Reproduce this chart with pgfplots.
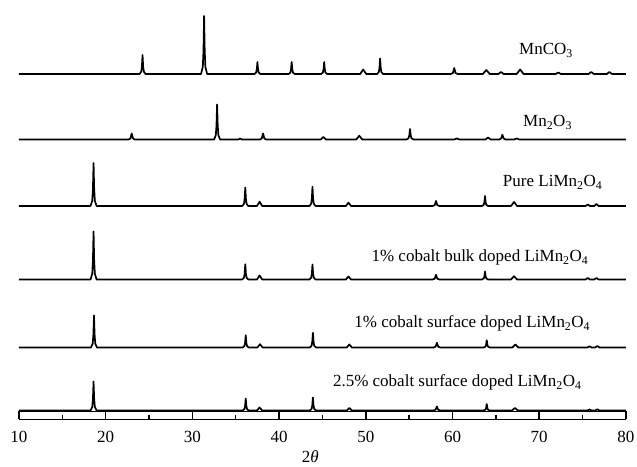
\documentclass[border=0pt]{standalone}
\usepackage{fontspec}
\setmainfont{Liberation Serif}
\usepackage{pgfplots}
\pgfplotsset{compat=1.18}

\begin{document}
\fontsize{17bp}{20bp}\selectfont
\begin{tikzpicture}
\begin{axis}[
    x=8.67bp, y=1bp,
    xmin=10, xmax=80, ymin=-8, ymax=400,
    enlargelimits=false, clip=false,
    axis x line=bottom, axis y line=none,
    axis line style={-, line width=1.6bp},
    xtick={10,20,...,80}, minor x tick num=1,
    tick align=inside,
    major tick length=8bp, minor tick length=4bp,
    every tick/.style={line width=1.5bp, black},
    xticklabel style={yshift=-6bp},
    /pgf/number format/assume math mode=true,
    xlabel={2\textit{θ}},
    xlabel style={at={(axis cs:43.6,-45)}, anchor=center},
    every axis plot post/.append style={black, solid, mark=none, line width=1.7bp, line join=round},
]
% box top of the axis ruler
\draw[line width=1.6bp] (axis cs:10,0) -- (axis cs:80,0);

% MnCO3
\addplot coordinates {(10,337.5)
 (23.9,337.5)(24.1,339.8)(24.18,345.1)(24.25,356.5)(24.32,345.1)(24.4,339.8)(24.6,337.5)
 (31.0,337.5)(31.2,344.5)(31.28,360.7)(31.35,395.5)(31.42,360.7)(31.5,344.5)(31.7,337.5)
 (37.15,337.5)(37.35,338.9)(37.43,342.3)(37.5,349.5)(37.57,342.3)(37.65,338.9)(37.85,337.5)
 (41.1,337.5)(41.3,338.9)(41.38,342.3)(41.45,349.5)(41.52,342.3)(41.6,338.9)(41.8,337.5)
 (44.85,337.5)(45.05,338.9)(45.13,342.3)(45.2,349.5)(45.27,342.3)(45.35,338.9)(45.55,337.5)
 (49.35,337.5)(49.7,342)(50.05,337.5)
 (51.3,337.5)(51.5,339.4)(51.58,343.7)(51.65,353)(51.72,343.7)(51.8,339.4)(52.0,337.5)
 (59.8,337.5)(60.05,338.5)(60.2,343.5)(60.35,338.5)(60.6,337.5)
 (63.5,337.5)(63.9,341.5)(64.3,337.5)
 (65.3,337.5)(65.6,339.5)(65.9,337.5)
 (67.4,337.5)(67.8,342)(68.2,337.5)
 (71.9,337.5)(72.2,339)(72.5,337.5)
 (75.7,337.5)(76.0,339.5)(76.3,337.5)
 (77.8,337.5)(78.1,339.5)(78.4,337.5)
 (80,337.5)};

% Mn2O3
\addplot coordinates {(10,272)
 (22.65,272)(22.85,273)(23.0,278)(23.15,273)(23.35,272)
 (32.5,272)(32.7,276.2)(32.78,286)(32.85,307)(32.92,286)(33.0,276.2)(33.2,272)
 (35.3,272)(35.5,273)(35.7,272)
 (37.8,272)(38.0,273)(38.15,278)(38.3,273)(38.5,272)
 (44.8,272)(45.1,274.5)(45.4,272)
 (48.9,272)(49.25,275.7)(49.6,272)
 (54.7,272)(54.93,273.3)(55.02,276.2)(55.1,282.5)(55.18,276.2)(55.27,273.3)(55.5,272)
 (60.2,272)(60.5,273)(60.8,272)
 (63.8,272)(64.1,274)(64.4,272)
 (65.4,272)(65.6,273)(65.75,276.7)(65.9,273)(66.1,272)
 (67.1,272)(67.4,273)(67.7,272)
 (80,272)};

% Pure LiMn2O4
\addplot coordinates {(10,205.5)
 (18.25,205.5)(18.45,210.7)(18.53,222.7)(18.6,248.5)(18.67,222.7)(18.75,210.7)(18.95,205.5)
 (35.75,205.5)(35.95,207.7)(36.03,212.9)(36.1,224)(36.17,212.9)(36.25,207.7)(36.45,205.5)
 (37.45,205.5)(37.75,209.8)(38.05,205.5)
 (43.5,205.5)(43.7,207.8)(43.78,213.2)(43.85,224.8)(43.92,213.2)(44.0,207.8)(44.2,205.5)
 (47.7,205.5)(48.0,208.8)(48.3,205.5)
 (57.7,205.5)(57.95,206.3)(58.1,210.5)(58.25,206.3)(58.5,205.5)
 (63.4,205.5)(63.6,206.7)(63.68,209.5)(63.75,215.5)(63.82,209.5)(63.9,206.7)(64.1,205.5)
 (66.75,205.5)(67.1,209.5)(67.45,205.5)
 (75.35,205.5)(75.6,207)(75.85,205.5)
 (76.35,205.5)(76.6,207.5)(76.85,205.5)
 (80,205.5)};

% 1% cobalt bulk doped
\addplot coordinates {(10,132)
 (18.25,132)(18.45,137.8)(18.53,151.2)(18.6,180)(18.67,151.2)(18.75,137.8)(18.95,132)
 (35.75,132)(35.95,133.8)(36.03,138.1)(36.1,147.3)(36.17,138.1)(36.25,133.8)(36.45,132)
 (37.45,132)(37.75,136)(38.05,132)
 (43.5,132)(43.7,133.8)(43.78,138)(43.85,147)(43.92,138)(44.0,133.8)(44.2,132)
 (47.7,132)(48.0,135)(48.3,132)
 (57.7,132)(57.95,132.8)(58.1,136.7)(58.25,132.8)(58.5,132)
 (63.4,132)(63.6,133)(63.68,135.2)(63.75,140)(63.82,135.2)(63.9,133)(64.1,132)
 (66.75,132)(67.1,135.3)(67.45,132)
 (75.35,132)(75.6,133.5)(75.85,132)
 (76.35,132)(76.6,133.5)(76.85,132)
 (80,132)};

% 1% cobalt surface doped
\addplot coordinates {(10,64)
 (18.3,64)(18.5,67.8)(18.58,76.8)(18.65,96)(18.72,76.8)(18.8,67.8)(19.0,64)
 (35.8,64)(36.0,65.5)(36.08,68.9)(36.15,76.3)(36.22,68.9)(36.3,65.5)(36.5,64)
 (37.5,64)(37.8,67.3)(38.1,64)
 (43.55,64)(43.75,65.8)(43.83,69.9)(43.9,78.7)(43.97,69.9)(44.05,65.8)(44.25,64)
 (47.8,64)(48.1,67)(48.4,64)
 (57.8,64)(58.05,64.8)(58.2,68.7)(58.35,64.8)(58.6,64)
 (63.6,64)(63.8,64.9)(63.88,66.9)(63.95,71.3)(64.02,66.9)(64.1,64.9)(64.3,64)
 (66.9,64)(67.25,67)(67.6,64)
 (75.55,64)(75.8,65.2)(76.05,64)
 (76.45,64)(76.7,65.5)(76.95,64)
 (80,64)};

% 2.5% cobalt surface doped
\addplot coordinates {(10,1)
 (18.25,1)(18.45,4.5)(18.53,12.6)(18.6,30)(18.67,12.6)(18.75,4.5)(18.95,1)
 (35.8,1)(36.0,2.4)(36.08,5.8)(36.15,13)(36.22,5.8)(36.3,2.4)(36.5,1)
 (37.45,1)(37.75,4)(38.05,1)
 (43.55,1)(43.75,2.6)(43.83,6.2)(43.9,14)(43.97,6.2)(44.05,2.6)(44.25,1)
 (47.8,1)(48.1,3.5)(48.4,1)
 (57.8,1)(58.05,1.7)(58.2,5)(58.35,1.7)(58.6,1)
 (63.6,1)(63.8,1.8)(63.88,3.6)(63.95,7.5)(64.02,3.6)(64.1,1.8)(64.3,1)
 (66.85,1)(67.2,3.5)(67.55,1)
 (75.55,1)(75.8,2)(76.05,1)
 (76.45,1)(76.7,2.2)(76.95,1)
 (80,1)};

% sample names
\node[anchor=base east, inner sep=0pt] at (axis cs:73.9,356.5) {MnCO\textsubscript{3}};
\node[anchor=base east, inner sep=0pt] at (axis cs:73.8,285) {Mn\textsubscript{2}O\textsubscript{3}};
\node[anchor=base east, inner sep=0pt] at (axis cs:77.3,224.5) {Pure LiMn\textsubscript{2}O\textsubscript{4}};
\node[anchor=base east, inner sep=0pt] at (axis cs:75.7,149.5) {1\% cobalt bulk doped LiMn\textsubscript{2}O\textsubscript{4}};
\node[anchor=base east, inner sep=0pt] at (axis cs:75.9,83.5) {1\% cobalt surface doped LiMn\textsubscript{2}O\textsubscript{4}};
\node[anchor=base east, inner sep=0pt] at (axis cs:74.9,24.5) {2.5\% cobalt surface doped LiMn\textsubscript{2}O\textsubscript{4}};

\coordinate (bl) at (axis cs:7.81,-55.5);
\coordinate (tr) at (axis cs:81.28,411.5);
\end{axis}
\pgfresetboundingbox
\path[use as bounding box] (bl) rectangle (tr);
\end{tikzpicture}
\end{document}
